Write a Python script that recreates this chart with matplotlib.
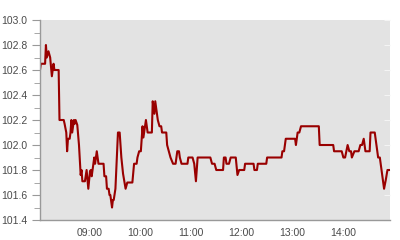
import pandas as pd
import matplotlib
matplotlib.use('Agg')
import matplotlib.pyplot as plt
import matplotlib.dates as mdates
from matplotlib.ticker import MultipleLocator

# intraday price
times = [
    '08:02', '08:03', '08:08', '08:09', '08:10', '08:12', '08:14', '08:16', '08:18', '08:19',
    '08:24', '08:25', '08:30', '08:31', '08:33', '08:34', '08:35', '08:37', '08:38', '08:39',
    '08:40', '08:42', '08:43', '08:44', '08:46', '08:48', '08:50', '08:51', '08:52', '08:55',
    '08:57', '08:59', '09:01', '09:02', '09:03', '09:06', '09:07', '09:09', '09:11', '09:17',
    '09:18', '09:20', '09:21', '09:23', '09:24', '09:25', '09:27', '09:28', '09:29', '09:31',
    '09:32', '09:34', '09:36', '09:38', '09:40', '09:43', '09:45', '09:51', '09:53', '09:56',
    '09:57', '09:59', '10:01', '10:03', '10:04', '10:07', '10:09', '10:14', '10:15', '10:17',
    '10:18', '10:21', '10:23', '10:25', '10:26', '10:31', '10:32', '10:34', '10:36', '10:39',
    '10:42', '10:44', '10:46', '10:47', '10:49', '10:56', '10:57', '11:02', '11:04', '11:06',
    '11:08', '11:23', '11:25', '11:28', '11:30', '11:38', '11:39', '11:41', '11:42', '11:45',
    '11:47', '11:53', '11:55', '11:57', '12:03', '12:04', '12:14', '12:15', '12:18', '12:19',
    '12:29', '12:30', '12:47', '12:48', '12:50', '12:52', '13:03', '13:04', '13:06', '13:08',
    '13:10', '13:31', '13:32', '13:48', '13:49', '13:58', '14:00', '14:02', '14:05', '14:07',
    '14:09', '14:10', '14:13', '14:18', '14:20', '14:22', '14:24', '14:26', '14:31', '14:32',
    '14:37', '14:39', '14:41', '14:43', '14:45', '14:48', '14:50', '14:52', '14:55',
]
prices = [
    102.60, 102.65, 102.65, 102.80, 102.70, 102.75, 102.70, 102.55, 102.65, 102.60,
    102.60, 102.20, 102.20, 102.17, 102.10, 101.95, 102.05, 102.05, 102.10, 102.20,
    102.10, 102.20, 102.17, 102.20, 102.16, 102.00, 101.76, 101.80, 101.71, 101.71,
    101.80, 101.65, 101.79, 101.80, 101.75, 101.90, 101.85, 101.95, 101.85, 101.85,
    101.75, 101.75, 101.65, 101.65, 101.60, 101.60, 101.50, 101.56, 101.56, 101.65,
    101.80, 102.10, 102.10, 101.90, 101.77, 101.65, 101.70, 101.70, 101.85, 101.85,
    101.90, 101.95, 101.95, 102.15, 102.06, 102.20, 102.10, 102.10, 102.35, 102.25,
    102.35, 102.20, 102.15, 102.15, 102.10, 102.10, 102.00, 101.95, 101.90, 101.85,
    101.85, 101.95, 101.95, 101.90, 101.85, 101.85, 101.90, 101.90, 101.85, 101.71,
    101.90, 101.90, 101.85, 101.85, 101.80, 101.80, 101.90, 101.90, 101.85, 101.85,
    101.90, 101.90, 101.76, 101.80, 101.80, 101.85, 101.85, 101.80, 101.80, 101.85,
    101.85, 101.90, 101.90, 101.95, 101.95, 102.05, 102.05, 102.00, 102.10, 102.10,
    102.15, 102.15, 102.00, 102.00, 101.95, 101.95, 101.90, 101.90, 102.00, 101.95,
    101.95, 101.90, 101.95, 101.95, 102.00, 102.00, 102.05, 101.95, 101.95, 102.10,
    102.10, 102.00, 101.90, 101.90, 101.80, 101.65, 101.72, 101.80, 101.80,
]
x_ticks = ['09:00', '10:00', '11:00', '12:00', '13:00', '14:00']

day = '2024-01-02 '
t = pd.to_datetime([day + s for s in times])

plt.rcParams['font.family'] = ['Liberation Sans', 'DejaVu Sans']

fig = plt.figure(figsize=(4, 2.4), dpi=100)
ax = fig.add_axes([0.1, 0.0833, 0.875, 0.8333])
ax.set_facecolor('#e3e3e3')

ax.plot(t, prices, color='#990000', linewidth=1.5)

ax.set_ylim(101.4, 103.0)
ax.set_xlim(pd.Timestamp(day + '08:02'), pd.Timestamp(day + '14:55'))
ax.yaxis.set_major_locator(MultipleLocator(0.2))
ax.yaxis.set_minor_locator(MultipleLocator(0.1))
ax.yaxis.set_major_formatter(plt.FuncFormatter(lambda v, p: f'{v:.1f}'))

ax.set_xticks(pd.to_datetime([day + s for s in x_ticks]))
ax.xaxis.set_major_formatter(mdates.DateFormatter('%H:%M'))

for side in ['top', 'right']:
    ax.spines[side].set_visible(False)
for side in ['left', 'bottom']:
    ax.spines[side].set_color('#999999')
    ax.spines[side].set_linewidth(1)

ax.tick_params(axis='y', which='major', length=6, color='#999999',
               labelsize=7.5, labelcolor='#4a4a4a', pad=3)
ax.tick_params(axis='y', which='minor', length=4, color='#999999')
ax.tick_params(axis='x', length=0, labelsize=7.5, labelcolor='#4a4a4a', pad=6)

# faint light ticks on the right edge
rax = ax.secondary_yaxis('right')
rax.spines['right'].set_visible(False)
rax.yaxis.set_major_locator(MultipleLocator(0.2))
rax.tick_params(axis='y', which='major', length=4, color='#f4f4f4',
                direction='in', labelright=False)
rax.tick_params(axis='y', which='minor', length=0)

fig.savefig('out.png', dpi=100)
